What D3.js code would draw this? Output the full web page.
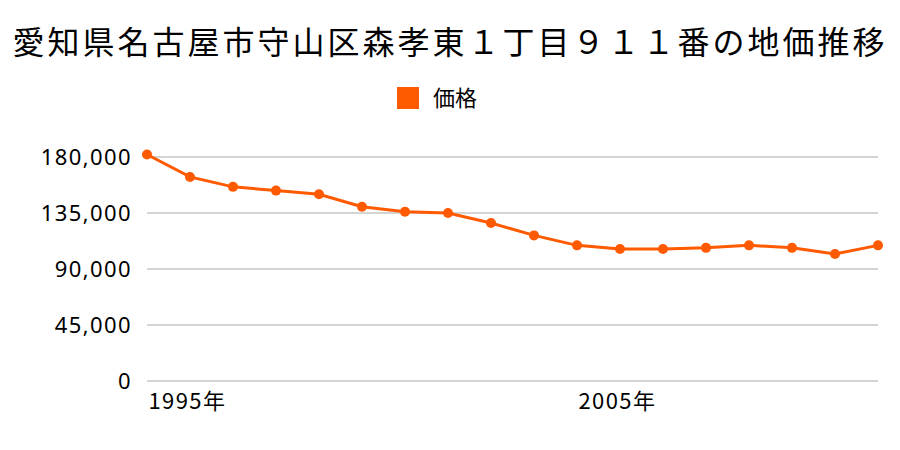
<!DOCTYPE html>
<html><head><meta charset="utf-8">
<script src="https://cdn.jsdelivr.net/npm/d3@7"></script>
<style>body{margin:0;background:#fff;} svg{display:block;font-family:"Noto Sans CJK JP","Noto Sans",sans-serif;}</style>
</head><body>
<svg id="c" width="900" height="450"></svg>
<script>
const title = "愛知県名古屋市守山区森孝東１丁目９１１番の地価推移";
const seriesName = "価格";
const years = [1995,1996,1997,1998,1999,2000,2001,2002,2003,2004,2005,2006,2007,2008,2009,2010,2011,2012];
const prices = [182000,164000,156000,153000,150000,140000,136000,135000,127000,117000,109000,106000,106000,107000,109000,107000,102000,109000];
const yTicks = [0,45000,90000,135000,180000];
const xLabelYears = [1995,2005];
const color = "#ff5a00";

const svg = d3.select("#c");
const x = d3.scalePoint().domain(years).range([147,878]);
const y = d3.scaleLinear().domain([0,180000]).range([381,157]);

svg.append("text").attr("x",450).attr("y",54).attr("text-anchor","middle")
  .attr("font-size",32).attr("letter-spacing","3px").attr("fill","#000").text(title);

svg.append("rect").attr("x",397).attr("y",87).attr("width",22).attr("height",22).attr("fill",color);
svg.append("text").attr("x",433).attr("y",106).attr("font-size",22).attr("fill","#000").text(seriesName);

const yAxis = d3.axisLeft(y).tickValues(yTicks).tickSize(0).tickPadding(0).tickFormat(d3.format(","));
const gy = svg.append("g").attr("transform","translate(132,0)").call(yAxis);
gy.select(".domain").remove();
gy.selectAll("text").attr("font-size",22).attr("letter-spacing","1.4px").attr("fill","#000")
  .attr("font-family","'Noto Sans','Noto Sans CJK JP',sans-serif").attr("dy","0.35em");

svg.append("g").selectAll("line").data(yTicks).join("line")
  .attr("x1",147).attr("x2",878).attr("y1",d=>y(d)).attr("y2",d=>y(d))
  .attr("stroke","#aaa").attr("stroke-width",1);

const xAxis = d3.axisBottom(x).tickValues(xLabelYears).tickSize(0).tickPadding(0).tickFormat(d=>d+"年");
const gx = svg.append("g").attr("transform","translate(1,392)").call(xAxis);
gx.select(".domain").remove();
gx.selectAll("text").attr("font-size",22).attr("letter-spacing","1.4px").attr("fill","#000")
  .attr("font-family","'Noto Sans CJK JP','Noto Sans',sans-serif")
  .attr("text-anchor","start").attr("dy","0.75em");

const line = d3.line().x((d,i)=>x(years[i])).y(d=>y(d));
svg.append("path").datum(prices).attr("d",line).attr("fill","none").attr("stroke",color).attr("stroke-width",3);
svg.append("g").selectAll("circle").data(prices).join("circle")
  .attr("cx",(d,i)=>x(years[i])).attr("cy",d=>y(d)).attr("r",5).attr("fill",color);
</script>
</body></html>
